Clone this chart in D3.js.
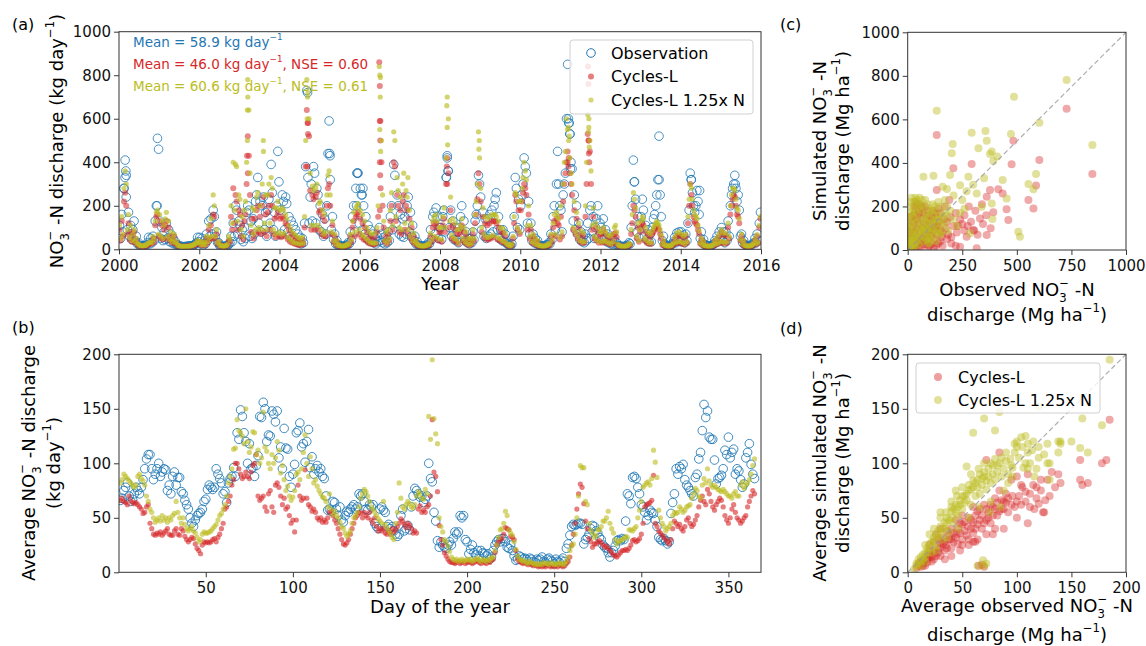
<!DOCTYPE html>
<html>
<head>
<meta charset="utf-8">
<script src="https://cdn.jsdelivr.net/npm/d3@7"></script>
<style>
  body { margin: 0; background: #fff; }
  text { font-family: "DejaVu Sans", sans-serif; }
</style>
</head>
<body>
<svg id="fig" width="1146" height="646"></svg>
<script>
// ---------- data ----------
// (a) daily discharge, sampled ~every 10 days (36 per year), 2000-2015
const obsA = [
  110,50,160,80,280,410,340,90,170,60,110,45,90,130,40,60,25,30,18,15,14,14,15,17,20,30,55,25,50,30,60,40,130,200,510,460,
  130,50,100,40,80,45,120,50,90,35,70,30,50,25,35,20,20,18,15,13,13,12,12,13,13,14,15,15,16,16,18,20,25,30,55,35,
  55,25,50,20,40,25,70,40,130,60,140,70,180,150,60,80,30,30,16,14,13,13,13,14,16,18,22,30,60,35,120,60,200,180,70,130,
  110,45,90,35,100,50,170,200,180,60,130,50,140,70,220,250,330,120,220,80,200,240,90,170,60,180,230,120,390,260,90,170,60,200,450,310,
  180,70,250,220,90,240,210,80,150,60,130,50,110,45,90,35,70,30,55,25,50,30,120,380,730,330,120,240,300,130,380,350,120,280,250,90,
  200,80,160,60,140,70,200,440,590,320,90,150,45,70,25,40,18,20,15,14,14,14,15,17,20,30,25,80,40,150,200,80,280,350,350,120,
  280,250,90,200,70,150,50,110,40,90,35,70,30,55,25,60,35,100,40,70,30,55,25,60,30,80,40,150,200,90,390,340,120,250,200,70,
  160,60,140,55,150,70,200,240,80,170,60,110,40,60,25,35,20,18,16,14,14,14,15,17,20,30,25,90,45,150,170,70,190,150,50,100,
  100,45,150,180,80,330,430,360,100,180,60,130,45,100,40,80,30,100,150,200,70,130,40,80,30,50,25,50,30,80,45,130,160,200,340,300,
  240,90,170,60,140,50,140,60,160,70,180,80,200,230,260,90,150,50,90,40,90,35,70,30,25,20,18,17,25,60,150,330,280,100,230,90,
  200,250,300,420,380,350,120,220,70,120,40,70,30,50,25,40,20,18,16,15,15,15,17,20,22,30,25,70,45,150,200,90,300,450,300,200,
  180,80,250,300,350,600,850,580,530,400,370,130,250,90,200,70,120,45,80,35,60,30,70,40,120,50,180,200,80,150,50,100,140,200,60,120,
  100,45,140,50,90,35,70,30,55,25,45,20,40,20,30,18,16,14,13,13,13,13,14,16,20,30,25,100,200,410,310,230,80,150,55,120,
  150,230,180,60,110,45,90,35,70,35,100,140,160,200,250,320,520,250,150,40,60,25,20,18,16,15,17,20,25,35,55,30,75,40,80,35,
  80,35,65,30,70,40,120,180,350,320,260,200,170,200,270,220,160,50,80,30,45,22,18,17,16,15,15,17,20,25,40,30,60,35,80,45,
  100,40,80,30,80,40,130,60,200,250,280,300,340,280,220,250,180,60,70,30,40,22,18,17,16,15,17,20,25,30,50,30,70,40,120,170
]
const cyclesA = [
  90,40,130,60,220,260,200,70,120,45,80,35,60,80,30,40,22,20,16,15,14,14,15,16,18,20,25,25,30,25,50,35,110,150,160,60,
  130,50,110,45,90,110,130,50,100,40,60,30,40,60,25,30,18,16,14,13,12,12,12,13,13,13,14,14,15,16,18,20,22,25,35,25,
  30,20,30,18,28,20,50,30,90,45,110,50,160,150,50,70,25,30,16,15,14,14,14,15,16,20,40,35,150,90,280,120,250,220,90,180,
  160,60,110,45,130,160,300,520,430,250,80,140,50,140,70,180,200,80,150,70,200,240,80,160,60,170,200,90,250,200,70,140,55,150,170,60,
  140,55,150,140,60,120,110,45,90,35,70,30,60,25,50,22,45,20,40,20,45,25,100,380,640,580,520,270,90,250,230,90,240,260,90,170,
  180,70,150,60,130,60,200,280,300,200,70,110,35,60,22,35,16,18,14,13,13,13,14,16,18,22,20,60,35,100,130,60,150,160,170,70,
  140,55,120,45,100,40,80,30,60,25,50,25,22,55,25,80,150,860,590,400,200,100,35,60,25,70,40,130,200,90,400,380,130,250,200,80,
  180,70,220,250,90,200,180,70,140,50,100,35,60,25,35,20,17,16,14,13,13,13,14,16,18,22,20,60,35,100,120,50,120,100,40,80,
  80,35,110,140,80,300,420,350,100,180,50,110,40,90,35,70,25,70,90,110,40,80,30,60,22,40,20,40,25,70,40,120,160,230,350,300,
  220,80,150,55,120,45,110,45,120,50,130,55,130,130,120,45,100,40,80,35,75,30,60,25,20,18,16,15,20,50,120,250,220,90,180,70,
  180,220,260,300,280,250,90,160,50,90,30,60,25,45,20,35,17,16,14,13,13,13,14,16,18,22,20,60,35,100,130,60,140,120,110,45,
  150,60,220,300,350,400,450,420,350,300,250,90,180,70,140,50,100,35,70,30,60,30,150,300,530,500,450,300,90,150,50,100,40,80,30,60,
  70,30,90,35,70,30,55,25,48,22,60,30,70,75,55,20,16,14,13,12,12,12,13,14,16,22,20,70,120,200,180,150,50,100,35,80,
  100,120,110,40,80,30,65,25,55,25,70,80,90,100,110,100,90,70,50,20,32,18,15,14,13,13,14,16,18,25,45,25,60,30,65,30,
  60,25,50,22,60,30,120,200,300,250,200,150,130,120,110,90,70,25,45,18,32,16,14,13,13,13,13,14,16,20,35,22,45,25,60,30,
  80,30,65,25,65,30,100,50,160,200,230,250,240,200,160,150,120,40,60,20,35,16,14,13,13,13,14,16,20,25,40,22,60,30,100,140
]
const cyclesNA = [
  110,50,150,70,280,360,300,90,160,55,110,40,70,90,35,50,25,25,18,17,16,16,17,18,20,24,30,30,35,30,60,45,130,170,180,70,
  160,60,130,50,110,140,170,60,130,45,80,35,50,70,30,35,20,18,15,14,13,13,13,14,14,14,15,15,16,17,20,22,25,30,40,30,
  35,22,35,20,32,22,60,35,110,55,140,60,250,200,60,90,30,35,18,17,15,15,15,16,18,24,60,45,200,120,400,180,390,380,130,250,
  230,90,150,60,180,220,400,780,640,350,110,190,70,180,90,240,260,100,200,90,300,500,120,250,90,250,300,120,330,280,90,190,70,190,220,80,
  180,70,190,180,75,160,140,55,110,45,90,35,75,30,65,28,55,25,50,25,55,30,150,500,780,720,600,350,110,290,270,110,280,300,110,210,
  220,90,180,70,160,80,250,340,360,250,80,130,40,70,25,40,18,20,16,15,15,15,16,18,20,26,24,70,45,130,170,80,190,200,210,90,
  180,70,160,60,130,50,100,40,80,30,70,30,28,75,30,100,200,840,790,500,250,130,40,80,30,90,50,180,260,110,540,500,150,330,270,100,
  240,90,300,350,120,270,240,90,180,60,120,40,75,30,40,24,20,18,16,15,15,15,16,18,20,26,24,75,45,130,150,60,160,130,50,100,
  100,45,150,190,100,420,700,600,130,240,65,140,50,120,45,90,30,90,110,140,50,100,35,80,26,50,22,50,30,90,50,160,220,300,540,420,
  280,100,190,70,150,55,140,55,150,60,160,65,160,160,150,55,130,50,100,40,95,35,75,28,22,20,18,17,24,60,150,260,250,100,220,80,
  220,280,330,400,360,320,110,200,60,110,35,70,28,52,22,40,19,18,16,15,15,15,16,19,20,26,24,70,45,120,160,70,170,150,140,55,
  200,80,300,400,450,600,550,500,420,350,300,100,220,80,170,60,120,40,85,35,75,35,200,400,620,560,500,360,110,190,60,120,45,100,35,80,
  80,35,100,40,80,35,65,28,60,26,70,35,100,110,80,24,18,16,15,14,14,14,15,16,18,25,24,90,160,260,230,190,60,120,40,90,
  130,150,140,50,100,40,80,30,70,30,85,100,110,120,130,120,110,90,65,24,40,20,17,16,15,15,16,18,22,30,55,30,75,35,80,35,
  70,30,60,26,70,35,150,230,300,280,230,180,160,150,140,110,85,30,52,20,35,18,16,15,15,15,15,16,18,24,40,24,52,28,70,35,
  90,35,75,30,75,35,120,60,200,250,280,280,270,230,190,180,140,45,70,24,40,18,16,15,15,15,16,18,22,28,48,26,68,32,110,150
]
// extra daily values inside the big events: [year, value]
const obsPeaks = [[2000.12,280],[2000.15,330],[2000.17,360],[2000.18,240],[2000.95,200],[2004.7,720],[2005.25,440],[2005.26,430],
  [2005.92,200],[2005.94,350],[2006.06,250],[2006.08,280],[2008.16,330],[2008.18,420],[2008.2,360],[2011.2,600],[2011.22,580],
  [2011.24,530],[2011.25,370],[2012.84,310],[2013.46,320],[2014.26,320],[2014.47,270],[2015.36,300]]
const cyclesPeaks = [[2003.19,430],[2003.21,350],[2004.69,380],[2004.7,580],[2004.71,530],[2006.5,750],[2006.5,590],[2006.51,500],
  [2006.5,400],[2006.51,340],[2006.52,280],[2006.5,180],[2008.17,380],[2008.18,300],[2011.18,400],[2011.2,380],[2011.69,840],
  [2011.7,760],[2011.7,500],[2011.71,440],[2011.72,400]]
const cyclesNPeaks = [[2003.2,640],[2003.21,700],[2003.2,500],[2003.6,450],[2004.69,600],[2004.7,700],[2006.5,800],[2006.51,700],
  [2006.5,550],[2006.52,450],[2007.2,330],[2008.17,660],[2008.18,560],[2008.19,480],[2008.97,460],[2008.98,500],[2011.2,560],
  [2011.22,520],[2011.7,540],[2011.71,600],[2011.72,470]]

// (b) average by day of the year, days 1..365
const obsB = [
  66,68,75,78,82,70,65,67,72,78, 75,72,78,85,95,104,108,108,95,85, 90,95,100,88,92,95,94,75,80,72,
  88,92,80,87,87,74,72,66,62,58, 50,45,42,48,52,54,55,58,65,67, 76,80,78,76,78,95,90,86,82,72,
  74,64,82,86,88,96,88,128,122,149, 143,128,120,100,118,95,96,88,98,107, 143,142,156,150,120,126,125,148,145,138,
  148,105,115,95,132,114,113,88,78,90, 99,128,130,137,115,118,101,120,131,96, 106,90,95,98,92,95,88,86,70,57,
  58,56,65,64,58,52,60,48,46,52, 56,55,58,60,62,58,60,72,70,72, 65,58,57,62,60,62,45,42,40,58,
  60,57,55,42,44,40,42,38,35,33, 35,52,58,38,40,43,39,60,70,77, 75,72,69,70,64,67,70,100,86,83,
  55,47,29,23,28,25,23,22,25,28, 25,31,37,35,37,52,50,52,30,28, 17,21,25,18,16,20,15,20,18,17,
  15,17,12,14,20,25,28,30,28,31, 31,28,23,22,25,20,15,11,12,15, 14,12,13,12,10,13,12,10,9,12,
  11,12,14,10,9,12,13,11,10,8, 12,10,9,11,13,10,22,26,34,42, 44,43,44,45,45,44,26,30,32,35,
  40,43,42,38,36,32,30,25,23,22, 18,14,18,20,24,29,30,29,31,30, 47,72,70,63,87,88,86,78,72,62,
  60,55,48,52,57,55,54,48,42,32, 30,29,31,29,26,28,54,64,72,95, 90,97,95,99,85,80,78,75,72,70,
  87,90,104,110,130,154,142,148,124,122, 122,103,81,86,87,89,95,112,108,124, 105,110,113,90,95,93,85,78,81,105,
  110,118,99,90,86
]
const cyclesB = [
  66,68,65,64,62,70,66,64,63,64, 62,60,58,54,55,60,62,45,40,35, 34,36,35,37,34,36,38,40,35,34,
  34,38,40,35,34,40,38,33,30,28, 30,32,31,26,22,20,17,25,28,27, 28,27,28,30,31,28,32,35,40,45,
  58,60,65,70,80,85,100,100,95,90, 86,88,92,88,86,92,98,100,108,70, 66,68,70,60,56,72,75,60,55,80,
  82,78,70,62,68,58,60,52,45,48, 37,48,80,70,66,68,94,68,62,60, 56,58,55,50,48,50,46,48,46,50,
  55,56,52,48,45,40,35,30,26,25, 27,30,35,40,45,50,52,55,54,50, 55,52,50,55,48,45,50,42,38,40,
  38,40,36,35,38,35,40,37,39,42, 45,49,47,44,41,45,43,40,36,38, 36,58,61,55,57,55,60,62,70,140,
  92,88,74,43,30,25,18,15,12,10, 9,9,8,9,10,8,9,10,8,9, 10,9,8,9,10,11,9,8,10,9,
  8,10,9,11,12,18,25,28,30,31, 35,41,40,39,33,32,30,20,12,10, 9,8,9,8,7,8,7,6,7,6,
  5,6,5,6,5,7,6,5,6,5, 6,5,7,6,5,6,8,10,14,25, 35,45,58,72,81,78,63,47,40,31,
  28,23,26,26,28,29,27,25,23,24, 22,20,18,16,15,14,16,18,20,20, 21,20,22,25,29,30,28,29,31,35,
  45,60,62,63,64,66,89,45,42,38, 36,34,32,30,28,26,30,40,47,45, 42,44,40,38,42,48,50,45,42,44,
  48,52,60,66,70,65,62,76,72,65, 60,57,62,65,68,66,60,52,48,45, 50,58,62,55,50,48,45,47,50,52,
  60,65,70,75,72
]
const cyclesNB = [
  82,85,90,88,86,84,82,80,78,80, 88,90,86,84,80,70,65,58,55,50, 46,48,50,47,52,48,50,46,50,48,
  52,54,65,55,50,45,50,44,40,38, 40,42,38,36,32,28,30,35,37,36, 36,37,38,40,42,44,48,52,54,58,
  62,70,82,88,95,113,114,140,130,128, 125,118,150,120,110,115,129,128,108,112, 100,105,147,115,111,100,95,108,100,105,
  120,112,91,98,85,75,79,70,66,69, 75,90,92,85,95,110,126,100,88,106, 95,82,85,79,75,72,69,68,65,60,
  72,58,53,56,52,50,46,42,40,36, 33,35,38,45,50,52,55,60,68,72, 76,74,70,65,60,58,55,52,49,47,
  45,65,44,41,38,35,32,30,45,55, 82,68,60,58,62,65,63,60,59,62, 70,74,72,68,67,76,72,143,122,195,
  141,127,118,50,42,37,30,28,24,19, 14,12,11,12,10,11,12,10,11,12, 11,12,10,11,12,13,11,10,12,11,
  10,12,11,13,14,20,25,32,39,40, 45,56,52,39,36,34,28,21,15,12, 11,10,11,9,8,10,9,8,7,8,
  7,8,7,9,8,8,7,9,8,7, 8,7,9,8,7,8,10,14,20,24, 26,35,50,70,98,96,96,65,62,45,
  39,36,32,34,39,39,42,47,47,50, 56,45,40,36,30,26,28,29,30,31, 33,32,39,39,38,40,42,50,57,65,
  78,80,82,83,80,86,112,101,87,57, 50,45,42,38,40,42,45,52,55,54, 55,60,58,55,57,60,61,62,68,72,
  77,75,70,68,80,86,82,95,84,80, 78,80,78,76,75,74,76,74,72,70, 70,68,72,74,70,70,80,83,77,80,
  82,85,90,98,104
]

// (c) observed vs simulated daily discharge: [observed, simulated]
const scatterC = [
  [5,3],[10,8],[15,20],[20,12],[25,30],[30,18],[35,45],[40,25],[45,60],[50,35],[55,80],[60,40],[65,100],[70,55],[75,120],
  [80,70],[85,140],[90,60],[95,160],[100,90],[105,110],[110,75],[115,180],[120,130],[125,95],[130,150],[140,110],[150,170],
  [160,80],[170,200],[180,130],[200,60],[12,40],[18,70],[22,100],[28,130],[32,160],[38,190],[8,110],[15,150],[42,210],
  [55,170],[65,200],[75,40],[85,25],[95,15],[110,30],[130,20],[150,40],[20,50],[30,80],[50,120],[60,5],[3,15],
  [5,40],[10,60],[15,90],[20,130],[25,160],[30,200],[35,220],[40,100],[45,140],[50,180],[55,210],[60,150],[65,60],[70,170],
  [75,90],[80,200],[85,110],[90,180],[95,80],[100,140],[105,60],[110,150],[115,100],[120,50],[125,170],[130,110],[135,70],
  [140,190],[145,130],[150,90],[155,60],[165,140],[175,100],[185,70],[195,150],[210,110],[225,80],[240,140],[260,160],
  [275,110],[290,130],[305,90],[320,70],[345,120],[360,160],[380,100],[5,80],[10,20],[20,35],[35,10],[50,10],[70,25],
  [90,40],[100,20],[120,10],[140,30],[160,20],[180,50],[200,30],[220,20],
  [133,528],[293,395],[476,394],[484,502],[603,413],[728,649],[846,349],[553,230],[576,191],[588,296],[453,187],[461,138],
  [435,260],[415,279],[362,245],[392,173],[331,145],[300,92],[270,61],[240,15],[316,8],[362,69],[209,375],[377,276],[133,276],
  [250,120],[280,200],[220,170],[190,230],[260,90],[230,110],[310,180],[340,210]
]
const scatterCN = [
  [5,5],[10,15],[15,30],[20,20],[25,45],[30,30],[35,60],[40,40],[45,80],[50,55],[55,100],[60,65],[65,120],[70,80],[75,140],
  [80,95],[85,165],[90,85],[95,190],[100,120],[105,140],[110,100],[115,210],[120,160],[125,120],[130,180],[140,140],[150,200],
  [160,110],[170,230],[180,160],[12,60],[18,90],[22,120],[28,150],[32,180],[38,210],[8,130],[15,170],[42,230],[55,200],
  [65,230],[75,60],[85,45],[95,30],[110,50],[130,40],[150,70],[20,70],[30,100],[50,140],[3,25],[2,2],[8,40],
  [5,60],[10,90],[15,120],[20,160],[25,190],[30,220],[35,240],[40,130],[45,170],[50,210],[55,240],[60,180],[65,90],[70,200],
  [75,110],[80,230],[85,130],[90,210],[95,100],[100,170],[105,80],[110,180],[115,130],[120,70],[125,200],[130,140],[135,90],
  [140,220],[145,160],[150,120],[155,80],[165,170],[175,130],[185,90],[195,180],[210,140],[225,110],[240,170],[260,190],
  [5,100],[10,40],[20,45],[35,20],[50,25],[70,40],[90,60],[100,35],[4,150],[6,200],[12,220],[18,240],[25,10],[40,70],
  [60,100],[80,150],[100,60],[120,100],[140,80],[160,150],[180,200],
  [133,640],[487,704],[728,781],[603,585],[473,533],[846,482],[588,349],[553,303],[576,279],[293,539],[356,547],[362,502],
  [206,487],[202,444],[324,467],[377,441],[385,452],[392,409],[410,429],[435,322],[453,237],[388,142],[507,84],[514,61],
  [118,341],[72,337],[160,291],[194,344],[240,298],[278,337],[316,260],[339,199],[385,214],[285,77],[210,250],[250,230],
  [180,280],[300,300],[350,330],[270,270]
]

// (d) average observed vs average simulated: [observed, simulated]
const scatterD = [
  [8,4],[10,6],[12,5],[14,8],[15,10],[18,12],[20,14],[22,10],[25,18],[28,22],[30,15],[12,10],[16,6],[20,20],[24,28],[26,35],
  [30,27],[32,32],[35,25],[38,30],[40,40],[42,28],[45,35],[48,45],[50,30],[52,38],[55,42],[58,48],[60,36],[62,52],[64,44],
  [66,58],[68,40],[70,62],[72,48],[74,55],[76,45],[78,60],[80,68],[82,52],[84,75],[86,58],[88,65],[90,72],[92,55],[95,85],
  [98,60],[100,88],[102,70],[105,78],[108,65],[110,90],[112,72],[115,80],[118,68],[120,63],[122,75],[125,55],[128,85],
  [130,70],[135,78],[138,90],[140,82],[110,45],[84,110],[72,103],[60,60],[50,52],[44,48],[36,38],[24,12],[18,16],[34,20],
  [56,30],[62,28],[70,5],[68,7],[65,6],[158,85],[160,80],[158,103],[165,82],[178,100],[182,103],[185,140],[100,50],[95,62],
  [78,35],[88,40],[104,62],[116,58],[124,55],[132,92],[46,26],[40,22],[30,40],[28,30],[20,25],
  [10,8],[12,9],[14,6],[16,12],[18,9],[20,16],[22,14],[24,20],[26,15],[28,18],[30,22],[32,26],[34,28],[36,22],[38,34],[40,30],
  [42,36],[44,32],[46,40],[48,36],[50,44],[52,46],[54,34],[56,50],[58,40],[60,46],[62,40],[64,56],[66,48],[68,52],[70,45],
  [72,58],[74,50],[76,62],[78,52],[80,58],[82,64],[84,56],[86,66],[88,58],[90,64],[92,68],[96,70],[100,65],[104,80],[108,74],
  [112,60],[118,78],[122,85],[126,66],[34,12],[40,15],[48,20],[56,25],[64,30],[72,35],[80,40],[50,25],[60,28]
]
const scatterDN = [
  [6,3],[8,6],[10,8],[12,10],[14,12],[16,14],[18,18],[20,22],[22,18],[24,28],[26,24],[28,32],[30,36],[32,30],[34,40],[36,45],
  [38,38],[40,50],[42,46],[44,55],[46,52],[48,62],[50,58],[52,70],[54,66],[56,75],[58,62],[60,78],[62,70],[64,85],[66,72],
  [68,80],[70,88],[72,76],[74,95],[76,82],[78,98],[80,85],[82,92],[84,100],[86,88],[88,95],[90,102],[92,90],[95,98],[98,110],
  [100,120],[102,105],[105,115],[108,125],[110,110],[112,100],[115,120],[118,95],[120,105],[125,108],[128,100],[130,85],
  [140,120],[138,110],[158,114],[160,141],[165,110],[178,135],[185,195],[60,128],[70,141],[80,130],[54,97],[84,147],[120,152],
  [100,115],[92,82],[76,65],[66,60],[56,50],[46,40],[36,32],[26,20],[16,10],[12,6],[30,50],[40,60],[50,78],[70,6],[69,11],
  [72,8],[64,6],[88,75],[96,88],[106,96],[116,88],[130,100],[150,120],[85,60],[75,55],[65,95],[45,70],[35,55],
  [8,8],[10,12],[12,14],[14,16],[16,18],[18,22],[20,26],[22,28],[24,32],[26,34],[28,38],[30,42],[32,40],[34,46],[36,50],
  [38,48],[40,56],[42,58],[44,62],[46,60],[48,66],[50,70],[52,64],[54,72],[56,80],[58,76],[60,84],[62,82],[64,78],[66,90],
  [68,86],[70,92],[72,84],[74,88],[76,100],[78,90],[80,104],[82,98],[86,105],[90,110],[94,104],[98,118],[104,124],[110,118],
  [114,112],[108,100],[96,96],[24,40],[20,35],[16,25],[30,55],[44,75],[58,90],[40,65],[70,100],[110,95],[120,115],[128,118],
  [140,118],[138,120]
]

const annotations = [
  { label: "Mean = 58.9 kg day", tail: "" },
  { label: "Mean = 46.0 kg day", tail: ", NSE = 0.60" },
  { label: "Mean = 60.6 kg day", tail: ", NSE = 0.61" }
]

// ---------- style ----------
const BLUE = "#1f77b4", RED = "#d62728", OLIVE = "#bcbd22"
const TICK = 15, LABEL = 18

const svg = d3.select("#fig")

// text with sub/superscripts
function rich(x, y, parts, size, opts = {}) {
  const t = svg.append("text")
    .attr("font-size", size)
    .attr("text-anchor", opts.anchor || "middle")
    .attr("fill", opts.color || "#000")
    .attr("transform", `translate(${x},${y})` + (opts.rot ? " rotate(-90)" : ""))
  let shift = 0
  parts.forEach(([str, kind, dx]) => {
    const target = kind === "sub" ? 0.33 * size : kind === "sup" ? -0.49 * size : 0
    const ts = t.append("tspan").text(str).attr("dy", target - shift)
    if (kind) ts.attr("font-size", size * 0.65)
    if (dx) ts.attr("dx", dx * size)
    shift = target
  })
  return t
}
const NO3 = [["NO"], ["3", "sub"], ["\u2212", "sup", -0.413]]

function axes(x, y, xticks, yticks, pad) {
  const [x0, x1] = x.range(), [y0, y1] = y.range()
  const gx = svg.append("g").attr("transform", `translate(0,${y0})`)
    .call(d3.axisBottom(x).tickValues(xticks).tickSize(5).tickPadding(pad).tickFormat(d3.format("d")))
  const gy = svg.append("g").attr("transform", `translate(${x0},0)`)
    .call(d3.axisLeft(y).tickValues(yticks).tickSize(5).tickPadding(3).tickFormat(d3.format("d")))
  ;[gx, gy].forEach(g => {
    g.select(".domain").remove()
    g.selectAll("text").attr("font-size", TICK).attr("font-family", "DejaVu Sans").attr("fill", "#111")
    g.selectAll("line").attr("stroke", "#222").attr("stroke-width", 0.9)
  })
  svg.append("rect").attr("x", x0).attr("y", y1).attr("width", x1 - x0).attr("height", y0 - y1)
    .attr("fill", "none").attr("stroke", "#333").attr("stroke-width", 1)
}

function clip(id, x, y) {
  const [x0, x1] = x.range(), [y0, y1] = y.range()
  svg.append("clipPath").attr("id", id).append("rect")
    .attr("x", x0).attr("y", y1).attr("width", x1 - x0).attr("height", y0 - y1)
  return svg.append("g").attr("clip-path", `url(#${id})`)
}

// ---------- (a) time series ----------
const xa = d3.scaleLinear().domain([2000, 2016]).range([119, 761])
const ya = d3.scaleLinear().domain([0, 1000]).range([249.3, 31.7])
const toSeries = arr => arr.map((v, i) => [2000 + (i + 0.5) / 36, v])
const ga = clip("clipA", xa, ya)

ga.selectAll(".obsA").data(toSeries(obsA).concat(obsPeaks)).enter().append("circle")
  .attr("cx", d => xa(d[0])).attr("cy", d => ya(d[1])).attr("r", 4.3)
  .attr("fill", "none").attr("stroke", BLUE).attr("stroke-width", 1).attr("stroke-opacity", 0.8)
ga.selectAll(".cycA").data(toSeries(cyclesA).concat(cyclesPeaks)).enter().append("circle")
  .attr("cx", d => xa(d[0])).attr("cy", d => ya(d[1])).attr("r", 3)
  .attr("fill", RED).attr("fill-opacity", 0.55)
ga.selectAll(".cycNA").data(toSeries(cyclesNA).concat(cyclesNPeaks)).enter().append("circle")
  .attr("cx", d => xa(d[0])).attr("cy", d => ya(d[1])).attr("r", 2.6)
  .attr("fill", OLIVE).attr("fill-opacity", 0.65)

axes(xa, ya, d3.range(2000, 2017, 2), d3.range(0, 1001, 200), 6)

;[BLUE, RED, OLIVE].forEach((c, i) => {
  const a = annotations[i]
  rich(133, 47 + i * 22, [[a.label], ["\u22121", "sup"], [a.tail]], 13.5, { anchor: "start", color: c })
})

// legend (a)
const la = svg.append("g")
la.append("rect").attr("x", 570).attr("y", 40).attr("width", 183).attr("height", 74).attr("rx", 3)
  .attr("fill", "#fff").attr("fill-opacity", 0.8).attr("stroke", "#d0d0d0")
const legA = [["Observation", BLUE, "open"], ["Cycles-L", RED, 3], ["Cycles-L 1.25x N", OLIVE, 2.6]]
legA.forEach(([name, c, m], i) => {
  const cy = 53 + i * 23.5
  if (m === "open") la.append("circle").attr("cx", 591).attr("cy", cy).attr("r", 4.3)
    .attr("fill", "none").attr("stroke", c).attr("stroke-width", 1)
  else la.append("circle").attr("cx", 591).attr("cy", cy).attr("r", m).attr("fill", c).attr("fill-opacity", 0.6)
  la.append("text").attr("x", 611).attr("y", cy).attr("dy", "0.36em").attr("font-size", 16).text(name)
})

rich(63, 141, NO3.concat([[" -N discharge (kg day"], ["\u22121", "sup"], [")"]]), LABEL, { rot: true })
svg.append("text").attr("x", 440).attr("y", 290).attr("text-anchor", "middle").attr("font-size", LABEL).text("Year")
svg.append("text").attr("x", 12).attr("y", 30).attr("font-size", 16).text("(a)")

// ---------- (b) day of year ----------
const xb = d3.scaleLinear().domain([0.2, 368.7]).range([119, 761])
const yb = d3.scaleLinear().domain([0, 200]).range([572.3, 354.3])
const gb = clip("clipB", xb, yb)
gb.selectAll(".obsB").data(obsB).enter().append("circle")
  .attr("cx", (d, i) => xb(i + 1)).attr("cy", d => yb(d)).attr("r", 4.3)
  .attr("fill", "none").attr("stroke", BLUE).attr("stroke-width", 1).attr("stroke-opacity", 0.85)
gb.selectAll(".cycB").data(cyclesB).enter().append("circle")
  .attr("cx", (d, i) => xb(i + 1)).attr("cy", d => yb(d)).attr("r", 2.6)
  .attr("fill", RED).attr("fill-opacity", 0.6)
gb.selectAll(".cycNB").data(cyclesNB).enter().append("circle")
  .attr("cx", (d, i) => xb(i + 1)).attr("cy", d => yb(d)).attr("r", 2.6)
  .attr("fill", OLIVE).attr("fill-opacity", 0.6)

axes(xb, yb, d3.range(50, 351, 50), d3.range(0, 201, 50), 5)
rich(35, 463, [["Average "]].concat(NO3, [[" -N discharge"]]), LABEL, { rot: true })
rich(60, 463, [["(kg day"], ["\u22121", "sup"], [")"]], LABEL, { rot: true })
svg.append("text").attr("x", 440).attr("y", 613).attr("text-anchor", "middle").attr("font-size", LABEL).text("Day of the year")
svg.append("text").attr("x", 12).attr("y", 333).attr("font-size", 16).text("(b)")

// ---------- (c) scatter daily ----------
const xc = d3.scaleLinear().domain([0, 1000]).range([907.7, 1126])
const yc = d3.scaleLinear().domain([0, 1000]).range([250, 32.3])
const gc = clip("clipC", xc, yc)
gc.selectAll(".c1").data(scatterC).enter().append("circle")
  .attr("cx", d => xc(d[0])).attr("cy", d => yc(d[1])).attr("r", 4).attr("fill", RED).attr("fill-opacity", 0.4)
gc.selectAll(".c2").data(scatterCN).enter().append("circle")
  .attr("cx", d => xc(d[0])).attr("cy", d => yc(d[1])).attr("r", 4).attr("fill", OLIVE).attr("fill-opacity", 0.45)
gc.append("line").attr("x1", xc(0)).attr("y1", yc(0)).attr("x2", xc(1000)).attr("y2", yc(1000))
  .attr("stroke", "#999").attr("stroke-width", 1.2).attr("stroke-dasharray", "5,3").attr("opacity", 0.8)
axes(xc, yc, [0, 250, 500, 750, 1000], d3.range(0, 1001, 200), 5)
rich(826, 141, [["Simulated "]].concat(NO3, [[" -N"]]), LABEL, { rot: true })
rich(849, 141, [["discharge (Mg ha"], ["\u22121", "sup"], [")"]], LABEL, { rot: true })
rich(1017, 296, [["Observed "]].concat(NO3, [[" -N"]]), LABEL)
rich(1017, 321, [["discharge (Mg ha"], ["\u22121", "sup"], [")"]], LABEL)
svg.append("text").attr("x", 780).attr("y", 30).attr("font-size", 16).text("(c)")

// ---------- (d) scatter averages ----------
const xd = d3.scaleLinear().domain([0, 200]).range([907.7, 1126])
const yd = d3.scaleLinear().domain([0, 200]).range([572.3, 354.3])
const gd = clip("clipD", xd, yd)
gd.selectAll(".d1").data(scatterD).enter().append("circle")
  .attr("cx", d => xd(d[0])).attr("cy", d => yd(d[1])).attr("r", 4).attr("fill", RED).attr("fill-opacity", 0.4)
gd.selectAll(".d2").data(scatterDN).enter().append("circle")
  .attr("cx", d => xd(d[0])).attr("cy", d => yd(d[1])).attr("r", 4).attr("fill", OLIVE).attr("fill-opacity", 0.45)
gd.append("line").attr("x1", xd(0)).attr("y1", yd(0)).attr("x2", xd(200)).attr("y2", yd(200))
  .attr("stroke", "#999").attr("stroke-width", 1.2).attr("stroke-dasharray", "5,3").attr("opacity", 0.8)
axes(xd, yd, d3.range(0, 201, 50), d3.range(0, 201, 50), 5)

const ld = svg.append("g")
ld.append("rect").attr("x", 916).attr("y", 363).attr("width", 184).attr("height", 50).attr("rx", 3)
  .attr("fill", "#fff").attr("fill-opacity", 0.8).attr("stroke", "#d0d0d0")
;[["Cycles-L", RED], ["Cycles-L 1.25x N", OLIVE]].forEach(([name, c], i) => {
  const cy = 377 + i * 23
  ld.append("circle").attr("cx", 938).attr("cy", cy).attr("r", 4).attr("fill", c).attr("fill-opacity", 0.45)
  ld.append("text").attr("x", 958).attr("y", cy).attr("dy", "0.36em").attr("font-size", 16).text(name)
})
rich(826, 463, [["Average simulated "]].concat(NO3, [[" -N"]]), LABEL, { rot: true })
rich(849, 463, [["discharge (Mg ha"], ["\u22121", "sup"], [")"]], LABEL, { rot: true })
rich(1017, 612, [["Average observed "]].concat(NO3, [[" -N"]]), LABEL)
rich(1017, 641, [["discharge (Mg ha"], ["\u22121", "sup"], [")"]], LABEL)
svg.append("text").attr("x", 780).attr("y", 334).attr("font-size", 16).text("(d)")
</script>
</body>
</html>
